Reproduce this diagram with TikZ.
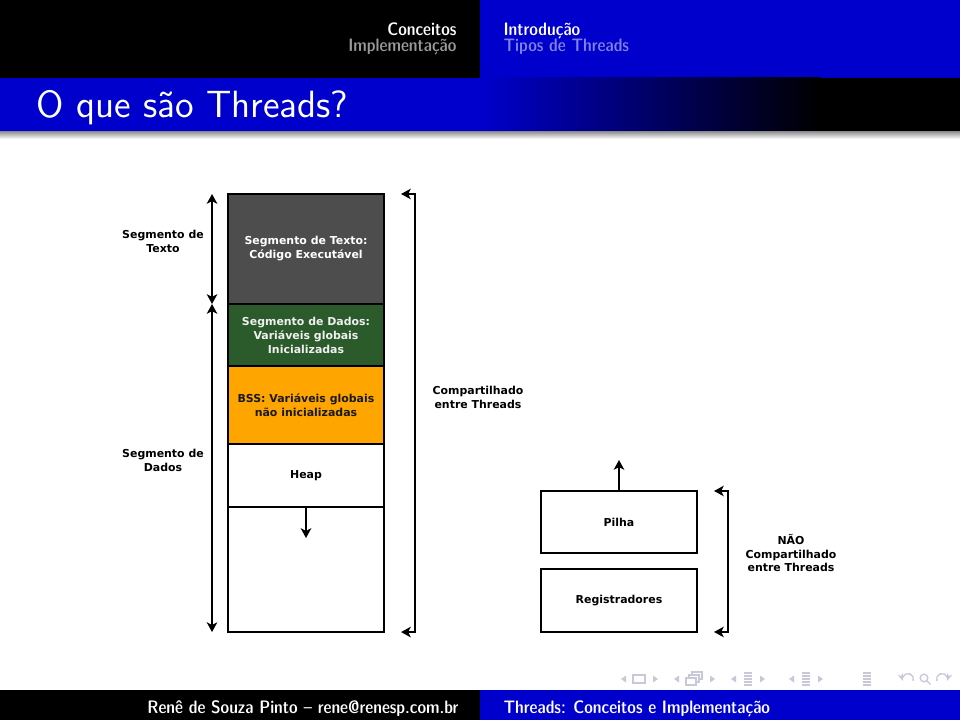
\documentclass[tikz,border=0pt]{standalone}
\usepackage{fontspec}
\usetikzlibrary{arrows.meta, positioning, calc}
\newfontfamily\rotulo{DejaVu Sans}
\definecolor{azulbeamer}{HTML}{0000CC}
\definecolor{cinzaTexto}{HTML}{4D4D4D}
\definecolor{verdeDados}{HTML}{2B5A2B}
\definecolor{laranjaBSS}{HTML}{FFA500}
\definecolor{cinzaNav}{HTML}{C8C8D8}
\colorlet{cabecalhoApagado}{white!60!black}
\colorlet{azulApagado}{azulbeamer!50!white}
\tikzset{
  segmento/.style={
    draw=black, line width=0.75pt, outer sep=0pt, inner sep=0pt,
    minimum width=20.8mm, align=center,
    font=\rotulo\bfseries\fontsize{4.15}{5.3}\selectfont
  },
  rotuloLado/.style={align=center, inner sep=0pt,
    font=\rotulo\bfseries\fontsize{4.15}{5.3}\selectfont},
  seta/.style={-{Stealth[length=1.3mm, width=1.4mm, inset=0.35mm]}, line width=0.75pt},
  setaDupla/.style={{Stealth[length=1.3mm, width=1.4mm, inset=0.35mm]}-{Stealth[length=1.3mm, width=1.4mm, inset=0.35mm]},
    line width=0.75pt},
  textoCabeca/.style={font=\sffamily\fontseries{sbc}\fontsize{6.85}{8}\selectfont, inner sep=0pt},
  navegacao/.style={cinzaNav, line width=0.5pt},
}

\begin{document}
\begin{tikzpicture}[x=0.133333mm, y=-0.133333mm]
  \useasboundingbox (0,0) rectangle (960,720);
  \fill[white] (0,0) rectangle (960,720);

  % cabecalho
  \fill[black] (0,0) rectangle (480,78);
  \fill[azulbeamer] (480,0) rectangle (960,78);
  \node[textoCabeca, text=white, anchor=base east] (secAtual) at (457,36) {Conceitos};
  \node[textoCabeca, text=cabecalhoApagado, anchor=base east] (secOutra) at (457,52) {Implementação};
  \node[textoCabeca, text=white, anchor=base west] (subAtual) at (503,36) {Introdução};
  \node[textoCabeca, text=azulApagado, anchor=base west] (subOutra) at (503,52) {Tipos de Threads};

  % titulo
  \fill[azulbeamer] (0,78) rectangle (480,132);
  \shade[left color=azulbeamer, right color=black] (480,78) rectangle (820,132);
  \fill[black] (820,78) rectangle (960,132);
  \shade[top color=black!40, bottom color=white] (0,132) rectangle (960,139);
  \node[anchor=base west, text=white, inner sep=0pt,
    font=\sffamily\fontsize{14.4}{17}\selectfont] (titulo) at (36,118) {O que são Threads?};

  % memoria do processo
  \node[segmento, fill=cinzaTexto, text=white, minimum height=14.67mm] (texto) at (306,249)
    {Segmento de Texto:\\Código Executável};
  \node[segmento, fill=verdeDados, text=white!94!black, minimum height=8.27mm, below=0pt of texto] (dados)
    {Segmento de Dados:\\Variáveis globais\\Inicializadas};
  \node[segmento, fill=laranjaBSS, text=black!90, minimum height=10.4mm, below=0pt of dados] (bss)
    {BSS: Variáveis globais\\não inicializadas};
  \node[segmento, minimum height=8.4mm, below=0pt of bss] (heap) {Heap};
  \node[segmento, minimum height=16.67mm, below=0pt of heap] (livre) {};

  \coordinate (heapCresce) at ($(heap.south)+(0,31)$);
  \draw[seta] (heap.south) -- (heapCresce);

  \draw[setaDupla] ([xshift=-2.13mm]texto.north west) -- ([xshift=-2.13mm]texto.south west);
  \draw[setaDupla] ([xshift=-2.13mm]dados.north west) -- ([xshift=-2.13mm]livre.south west);
  \node[rotuloLado] (rotTexto) at (163,241) {Segmento de\\Texto};
  \node[rotuloLado] (rotDados) at (163,460) {Segmento de\\Dados};

  \draw[setaDupla] ([xshift=2.27mm]texto.north east) -- ([xshift=4.13mm]texto.north east)
    -- ([xshift=4.13mm]livre.south east) -- ([xshift=2.27mm]livre.south east);
  \node[rotuloLado] (compartilhado) at (478,397) {Compartilhado\\entre Threads};

  % por thread
  \node[segmento, minimum height=8.27mm] (pilha) at (619,522) {Pilha};
  \node[segmento, minimum height=8.4mm, below=2.13mm of pilha] (registradores) {Registradores};
  \coordinate (pilhaCresce) at ($(pilha.north)+(0,-31)$);
  \draw[seta] (pilha.north) -- (pilhaCresce);

  \draw[setaDupla] ([xshift=2.27mm]pilha.north east) -- ([xshift=4.13mm]pilha.north east)
    -- ([xshift=4.13mm]registradores.south east) -- ([xshift=2.27mm]registradores.south east);
  \node[rotuloLado] (naoCompartilhado) at (791,553) {NÃO\\Compartilhado\\entre Threads};

  % simbolos de navegacao
  \foreach \x in {624,677,734,792}
    \fill[cinzaNav] (\x-3,679) -- (\x+2,675.5) -- (\x+2,682.5) -- cycle;
  \foreach \x in {655,712,762,820}
    \fill[cinzaNav] (\x+3,679) -- (\x-2,675.5) -- (\x-2,682.5) -- cycle;
  \draw[navegacao] (633,675) rectangle (645,683);
  \draw[navegacao, fill=white] (692,672) rectangle (702,679);
  \draw[navegacao, fill=white] (689,675) rectangle (699,682);
  \draw[navegacao, fill=white] (686,678) rectangle (696,685);
  \foreach \x in {748,806,867}
    \foreach \y in {673,676,679,682,685}
      \draw[navegacao] (\x-4,\y) -- (\x+4,\y);
  \draw[navegacao, -{Stealth[length=1mm]}] (908,679) ++(20:5.5) arc (20:-200:5.5);
  \draw[navegacao] (924,678) circle (3.8);
  \draw[navegacao] (926.7,680.7) -- (930.5,684.5);
  \draw[navegacao, -{Stealth[length=1mm]}] (942,679) ++(-200:5.5) arc (-200:20:5.5);

  % rodape
  \fill[black] (0,690) rectangle (480,720);
  \fill[azulbeamer] (480,690) rectangle (960,720);
  \node[textoCabeca, text=white, anchor=base east] (autor) at (459,713)
    {Renê de Souza Pinto – rene@renesp.com.br};
  \node[textoCabeca, text=white, anchor=base west] (tituloCurto) at (503,713)
    {Threads: Conceitos e Implementação};
\end{tikzpicture}
\end{document}
